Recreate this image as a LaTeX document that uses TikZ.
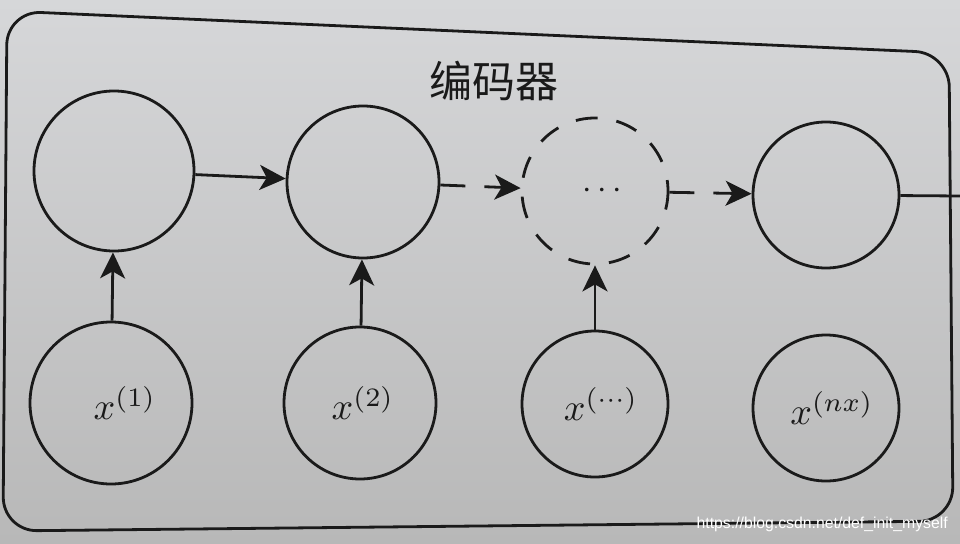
\documentclass[tikz,border=0pt]{standalone}
\usepackage{graphicx}
\usepackage{fontspec}
\newfontfamily\cjk{Noto Sans CJK SC}
\newfontfamily\wmfont{Liberation Sans}
\usetikzlibrary{arrows.meta}
\definecolor{ink}{RGB}{26,26,26}
\definecolor{papertop}{RGB}{214,215,217}
\definecolor{paperbot}{RGB}{184,184,184}
\newcommand{\biglbl}[1]{\scalebox{3.8}{$#1$}}
\begin{document}
\begin{tikzpicture}[x=1pt,y=-1pt,
  rnncell/.style={circle,draw=ink,line width=2.8pt,inner sep=0pt,text=ink},
  conn/.style={draw=ink,line width=2.8pt,-{Stealth[length=26pt,width=25pt,inset=7pt]}},
  dconn/.style={conn,dash pattern=on 25pt off 19pt},
  plainline/.style={draw=ink,line width=2.8pt}]
  % paper background
  \shade[top color=papertop,bottom color=paperbot] (0,0) rectangle (960,543);
  \useasboundingbox (0,0) rectangle (960,543);
  % frame
  \draw[plainline,rounded corners=34pt] (478,32) -- (949,53) -- (953,521) -- (3,531) -- (7,11) -- cycle;
  % title
  \node[font=\cjk\fontsize{43}{48}\selectfont,text=ink] (title) at (494,81) {编码器};
  % hidden states
  \node[rnncell,minimum size=160pt] (h1) at (114,171) {};
  \node[rnncell,minimum size=152pt] (h2) at (363,182) {};
  \node[rnncell,minimum size=146pt,dash pattern=on 22pt off 19pt,dash phase=11pt] (hd) at (595,191) {\hspace*{14pt}\scalebox{3.4}{$\cdots$}};
  \node[rnncell,minimum size=146pt] (h4) at (826,195) {};
  % inputs
  \node[rnncell,minimum size=162pt] (x1) at (111,403) {\hspace*{28pt}\biglbl{x^{(1)}}};
  \node[rnncell,minimum size=152pt] (x2) at (360,403) {\hspace*{6pt}\biglbl{x^{(2)}}};
  \node[rnncell,minimum size=146pt] (xd) at (595,404) {\hspace*{12pt}\biglbl{x^{(\cdots)}}};
  \node[rnncell,minimum size=146pt] (xn) at (826,408) {\hspace*{12pt}\biglbl{x^{(nx)}}};
  % connectors
  \draw[conn] (h1) -- (h2);
  \draw[dconn] (h2) -- (hd);
  \draw[dconn] (hd) -- (h4);
  \coordinate (out) at (960,196);
  \draw[plainline] (h4) -- (out);
  \draw[conn] (x1) -- (h1);
  \draw[conn] (x2) -- (h2);
  \draw[conn] (xd) -- (hd);
  % watermark
  \node[font=\wmfont\fontsize{15.8}{18}\selectfont,text=white,anchor=east,inner sep=0pt] (wm) at (948,524) {https://blog.csdn.net/def\_init\_myself};
\end{tikzpicture}
\end{document}
